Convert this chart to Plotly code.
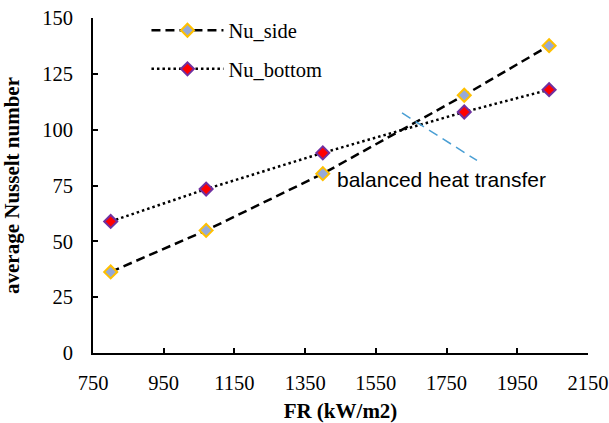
import plotly.graph_objects as go

fr = [800, 1070, 1400, 1800, 2040]
nu_side = [36.3, 54.9, 80.3, 115.4, 137.6]
nu_bottom = [58.9, 73.4, 89.6, 107.9, 117.9]
bal_x = [1624, 1836]
bal_y = [107.5, 86.2]
x_ticks = [750, 950, 1150, 1350, 1550, 1750, 1950, 2150]
y_ticks = [0, 25, 50, 75, 100, 125, 150]

fig = go.Figure()
fig.add_trace(go.Scatter(
    x=fr, y=nu_side, name="Nu_side", mode="lines+markers", legendgroup="a",
    line=dict(color="black", width=2.5, dash="9px,5px"),
    marker=dict(symbol="diamond", size=10, color="#95a9d8",
                line=dict(color="#ffc000", width=2))))
fig.add_trace(go.Scatter(
    x=fr, y=nu_bottom, name="Nu_bottom", mode="lines+markers", legendgroup="b",
    line=dict(color="black", width=2.5, dash="2.5px,3px"),
    marker=dict(symbol="diamond", size=10, color="#ff0000",
                line=dict(color="#7030a0", width=2))))
fig.add_trace(go.Scatter(
    x=bal_x, y=bal_y, mode="lines", showlegend=False,
    line=dict(color="#4a9fd4", width=1.5, dash="10px,6px")))

fig.add_annotation(x=1435, y=77.5, text="balanced heat transfer", showarrow=False,
                   xanchor="left", yanchor="middle",
                   font=dict(family="Liberation Sans", size=21, color="black"))

fig.update_layout(
    width=609, height=423,
    margin=dict(l=93, r=21, t=18, b=70, autoexpand=False),
    plot_bgcolor="white", paper_bgcolor="white",
    font=dict(family="Liberation Serif", size=20.5, color="black"),
    showlegend=True,
    legend=dict(x=0.108, y=1.0227, xanchor="left", yanchor="top",
                bgcolor="rgba(0,0,0,0)", itemwidth=72, tracegroupgap=9,
                font=dict(family="Liberation Serif", size=20.5, color="black")),
)
fig.update_xaxes(range=[750, 2150], tickvals=x_ticks, ticktext=[str(v) for v in x_ticks],
                 showline=True, linecolor="black", linewidth=2, showgrid=False,
                 zeroline=False, ticks="inside", ticklen=5, tickwidth=1.5, tickcolor="black",
                 ticklabelstandoff=10, automargin=False,
                 title=dict(text="<b>FR (kW/m2)</b>", standoff=12,
                            font=dict(family="Liberation Serif", size=21)))
fig.update_yaxes(range=[0, 150], tickvals=y_ticks, ticktext=[str(v) for v in y_ticks],
                 showline=True, linecolor="black", linewidth=2, showgrid=False,
                 zeroline=False, ticks="inside", ticklen=5, tickwidth=1.5, tickcolor="black",
                 ticklabelstandoff=14, automargin=False,
                 title=dict(text="<b>average Nusselt number</b>", standoff=24,
                            font=dict(family="Liberation Serif", size=21)))

fig.write_html("out.html", config={"displayModeBar": False},
               post_script="document.body.style.margin='0';document.body.style.overflow='hidden';")
